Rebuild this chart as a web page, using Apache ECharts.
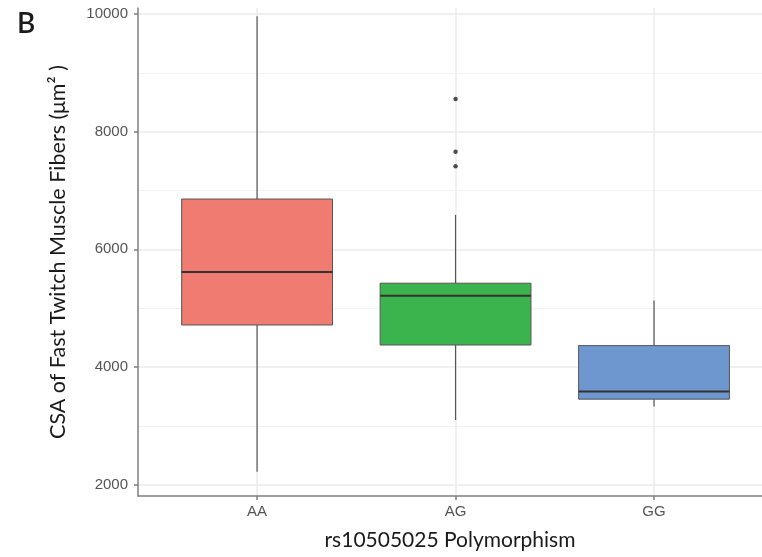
<!DOCTYPE html>
<html>
<head>
<meta charset="utf-8">
<script src="https://cdn.jsdelivr.net/npm/echarts@6/dist/echarts.min.js"></script>
<style>
html,body{margin:0;padding:0;background:#fff;}
#chart{width:762px;height:557px;}
</style>
</head>
<body>
<div id="chart"></div>
<script>
const categories = ['AA', 'AG', 'GG'];
const whiskerLow = [2220, 3100, 3330];
const q1 = [4715, 4375, 3455];
const median = [5615, 5210, 3585];
const q3 = [6855, 5425, 4365];
const whiskerHigh = [9960, 6585, 5130];
const outlierCategory = ['AG', 'AG', 'AG'];
const outlierValues = [8555, 7660, 7410];
const yTicks = [2000, 4000, 6000, 8000, 10000];
const yMinorTicks = [3000, 5000, 7000, 9000];
const fillColors = ['#ef7b71', '#3cb44e', '#6e97cf'];

const boxData = categories.map((c, i) => [i + 1, whiskerLow[i], q1[i], median[i], q3[i], whiskerHigh[i]]);
const outlierData = outlierCategory.map((c, i) => [categories.indexOf(c) + 1, outlierValues[i]]);

const chart = echarts.init(document.getElementById('chart'), null, {renderer: 'canvas'});
const FONT = 'Liberation Sans';
const TITLE_FONT = 'Lato';
const gridColor = '#ebebeb';

chart.setOption({
  animation: false,
  backgroundColor: '#ffffff',
  graphic: [{
    type: 'text', left: 17, top: 10,
    style: {text: 'B', font: '600 28px "Lato"', fill: '#1a1a1a'}
  }],
  grid: {left: 138, top: 8, right: 0, bottom: 61, containLabel: false},
  xAxis: {
    type: 'value', min: 0.4, max: 3.544,
    name: 'rs10505025 Polymorphism', nameLocation: 'middle', nameGap: 34,
    nameTextStyle: {fontFamily: TITLE_FONT, fontSize: 21, color: '#1a1a1a'},
    axisLine: {show: true, onZero: false, lineStyle: {color: '#7f7f7f', width: 1.5}},
    axisTick: {show: true, length: 4, customValues: [1, 2, 3], lineStyle: {color: '#7f7f7f', width: 1.5}},
    axisLabel: {customValues: [1, 2, 3], formatter: v => categories[Math.round(v) - 1] || '', fontFamily: FONT, fontSize: 15, color: '#555', margin: 8},
    splitLine: {show: true, lineStyle: {color: gridColor, width: 1.5}}
  },
  yAxis: [{
    type: 'value', min: 1810, max: 10100,
    name: 'CSA of Fast Twitch Muscle Fibers (μm² )', nameLocation: 'middle', nameGap: 69,
    nameTextStyle: {fontFamily: TITLE_FONT, fontSize: 21.5, color: '#1a1a1a'},
    axisLine: {show: true, onZero: false, lineStyle: {color: '#7f7f7f', width: 1.5}},
    axisTick: {show: true, length: 4, customValues: yTicks, lineStyle: {color: '#7f7f7f', width: 1.5}},
    axisLabel: {customValues: yTicks, formatter: v => String(v), fontFamily: FONT, fontSize: 15, color: '#555', margin: 10},
    splitLine: {show: true, lineStyle: {color: gridColor, width: 1.5}}
  }, {
    type: 'value', min: 1810, max: 10100, position: 'left',
    axisLine: {show: false}, axisLabel: {show: false},
    axisTick: {show: false, customValues: yMinorTicks},
    splitLine: {show: true, lineStyle: {color: '#f1f1f1', width: 1.2}}
  }],
  series: [{
    type: 'custom',
    data: boxData,
    encode: {x: 0, y: [1, 2, 3, 4, 5]},
    z: 3,
    renderItem: function (params, api) {
      const x = api.value(0);
      const half = 0.38;
      const lo = api.coord([x, api.value(1)]);
      const b1 = api.coord([x - half, api.value(2)]);
      const md1 = api.coord([x - half, api.value(3)]);
      const md2 = api.coord([x + half, api.value(3)]);
      const t2 = api.coord([x + half, api.value(4)]);
      const hi = api.coord([x, api.value(5)]);
      const idx = params.dataIndex;
      return {
        type: 'group',
        children: [
          {type: 'line', shape: {x1: lo[0], y1: lo[1], x2: lo[0], y2: b1[1]}, style: {stroke: '#555555', lineWidth: 1.2}},
          {type: 'line', shape: {x1: hi[0], y1: hi[1], x2: hi[0], y2: t2[1]}, style: {stroke: '#555555', lineWidth: 1.2}},
          {type: 'rect', shape: {x: b1[0], y: t2[1], width: t2[0] - b1[0], height: b1[1] - t2[1]},
           style: {fill: fillColors[idx], stroke: '#555555', lineWidth: 1}},
          {type: 'line', shape: {x1: md1[0], y1: md1[1], x2: md2[0], y2: md2[1]}, style: {stroke: '#333333', lineWidth: 2}}
        ]
      };
    }
  }, {
    type: 'scatter',
    data: outlierData,
    symbol: 'circle', symbolSize: 4.5,
    itemStyle: {color: '#222'},
    z: 4
  }]
});
</script>
</body>
</html>
